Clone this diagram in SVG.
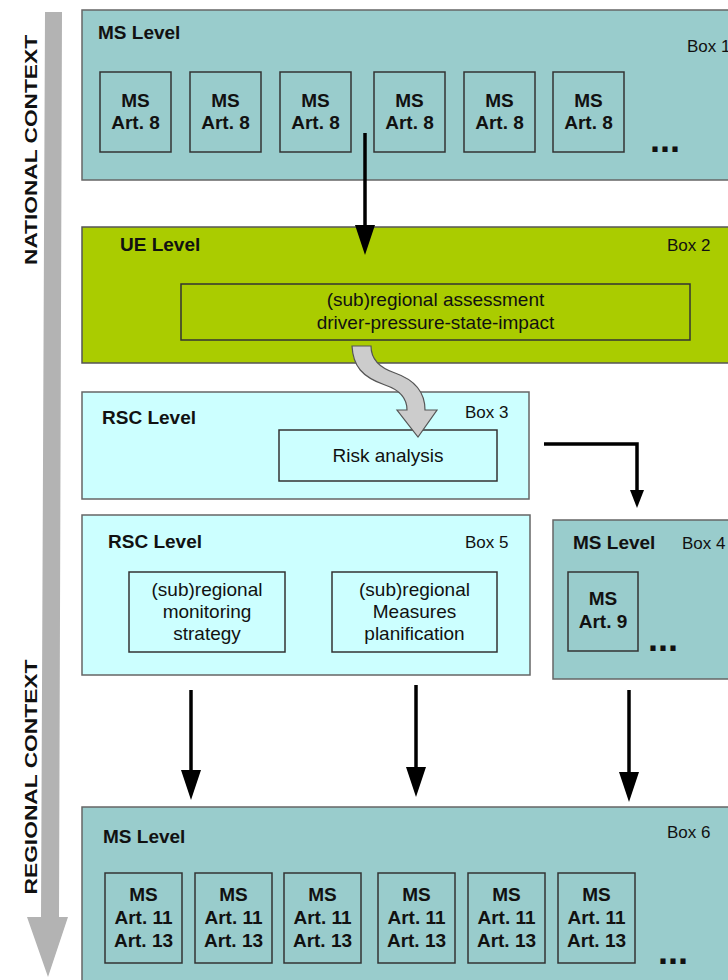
<svg xmlns="http://www.w3.org/2000/svg" width="728" height="980" viewBox="0 0 728 980">
<style>
text{font-family:"Liberation Sans",Arial,sans-serif;fill:#111}
.t{font-size:19px;font-weight:bold}
.lbl{font-size:17px}
.n{font-size:19px}
.c{text-anchor:middle}
.dots{font-size:36px;font-weight:bold}
.teal{fill:#99cccc;stroke:#666;stroke-width:1.5}
.cyan{fill:#ccffff;stroke:#666;stroke-width:1.5}
.green{fill:#aacc00;stroke:#555;stroke-width:1.5}
.in{fill:none;stroke:#333;stroke-width:1.5}
.conn{stroke:#000;stroke-width:3.5;fill:none}
.ctx{fill:#b3b3b3}
.ctxt{font-size:17px;font-weight:bold;text-anchor:middle}
</style>
<defs>
<marker id="ah" markerUnits="userSpaceOnUse" viewBox="0 0 30 20" refX="0" refY="10" markerWidth="30" markerHeight="20" orient="auto">
<path d="M0,0 L30,10 L0,20 Z" fill="#000"/>
</marker>
<marker id="ahs" markerUnits="userSpaceOnUse" viewBox="0 0 18 14" refX="0" refY="7" markerWidth="18" markerHeight="14" orient="auto">
<path d="M0,0 L18,7 L0,14 Z" fill="#000"/>
</marker>
</defs>
<rect width="728" height="980" fill="#fff"/>

<g id="context-arrow">
<path class="ctx" d="M45,12 L62,12 L59,917 L68,917 L48,977 L27,917 L41,917 Z"/>
<text class="ctxt" transform="translate(37,150) rotate(-90)" textLength="230" lengthAdjust="spacingAndGlyphs">NATIONAL CONTEXT</text>
<text class="ctxt" transform="translate(37,777) rotate(-90)" textLength="235" lengthAdjust="spacingAndGlyphs">REGIONAL CONTEXT</text>
</g>

<g id="box1">
<rect class="teal" x="82" y="10" width="660" height="170"/>
<text class="t" x="98" y="39">MS Level</text>
<text class="lbl" x="687" y="52">Box 1</text>
<rect class="in" x="100" y="72" width="71" height="80"/>
<text class="t c" x="135.5" y="107">MS</text><text class="t c" x="135.5" y="129">Art. 8</text>
<rect class="in" x="190" y="72" width="71" height="80"/>
<text class="t c" x="225.5" y="107">MS</text><text class="t c" x="225.5" y="129">Art. 8</text>
<rect class="in" x="280" y="72" width="71" height="80"/>
<text class="t c" x="315.5" y="107">MS</text><text class="t c" x="315.5" y="129">Art. 8</text>
<rect class="in" x="374" y="72" width="71" height="80"/>
<text class="t c" x="409.5" y="107">MS</text><text class="t c" x="409.5" y="129">Art. 8</text>
<rect class="in" x="464" y="72" width="71" height="80"/>
<text class="t c" x="499.5" y="107">MS</text><text class="t c" x="499.5" y="129">Art. 8</text>
<rect class="in" x="553" y="72" width="71" height="80"/>
<text class="t c" x="588.5" y="107">MS</text><text class="t c" x="588.5" y="129">Art. 8</text>
<text class="dots" x="650" y="152">...</text>
</g>

<g id="box2">
<rect class="green" x="82" y="227" width="660" height="136"/>
<text class="t" x="120" y="251">UE Level</text>
<text class="lbl" x="667" y="251">Box 2</text>
<rect class="in" x="181" y="284" width="509" height="56"/>
<text class="n c" x="435.5" y="306">(sub)regional assessment</text>
<text class="n c" x="435.5" y="329">driver-pressure-state-impact</text>
</g>

<g id="box3">
<rect class="cyan" x="82" y="392" width="447" height="107"/>
<text class="t" x="102" y="424">RSC Level</text>
<text class="lbl" x="465" y="418">Box 3</text>
<rect class="in" x="279" y="430" width="218" height="51"/>
<text class="n c" x="388" y="462">Risk analysis</text>
</g>

<g id="box4">
<rect class="teal" x="553" y="520" width="190" height="159"/>
<text class="t" x="573" y="549">MS Level</text>
<text class="lbl" x="682" y="549">Box 4</text>
<rect class="in" x="568" y="572" width="70" height="79"/>
<text class="t c" x="603" y="605">MS</text><text class="t c" x="603" y="628">Art. 9</text>
<text class="dots" x="648" y="651">...</text>
</g>

<g id="box5">
<rect class="cyan" x="82" y="515" width="448" height="160"/>
<text class="t" x="108" y="548">RSC Level</text>
<text class="lbl" x="465" y="548">Box 5</text>
<rect class="in" x="129" y="572" width="156" height="80"/>
<text class="n c" x="207" y="596">(sub)regional</text>
<text class="n c" x="207" y="618">monitoring</text>
<text class="n c" x="207" y="640">strategy</text>
<rect class="in" x="332" y="572" width="165" height="80"/>
<text class="n c" x="414.5" y="596">(sub)regional</text>
<text class="n c" x="414.5" y="618">Measures</text>
<text class="n c" x="414.5" y="640">planification</text>
</g>

<g id="box6">
<rect class="teal" x="82" y="807" width="660" height="190"/>
<text class="t" x="103" y="843">MS Level</text>
<text class="lbl" x="667" y="838">Box 6</text>
<rect class="in" x="105" y="873" width="77" height="90"/>
<text class="t c" x="143.5" y="901">MS</text><text class="t c" x="143.5" y="924">Art. 11</text><text class="t c" x="143.5" y="947">Art. 13</text>
<rect class="in" x="195" y="873" width="77" height="90"/>
<text class="t c" x="233.5" y="901">MS</text><text class="t c" x="233.5" y="924">Art. 11</text><text class="t c" x="233.5" y="947">Art. 13</text>
<rect class="in" x="284" y="873" width="77" height="90"/>
<text class="t c" x="322.5" y="901">MS</text><text class="t c" x="322.5" y="924">Art. 11</text><text class="t c" x="322.5" y="947">Art. 13</text>
<rect class="in" x="378" y="873" width="77" height="90"/>
<text class="t c" x="416.5" y="901">MS</text><text class="t c" x="416.5" y="924">Art. 11</text><text class="t c" x="416.5" y="947">Art. 13</text>
<rect class="in" x="468" y="873" width="77" height="90"/>
<text class="t c" x="506.5" y="901">MS</text><text class="t c" x="506.5" y="924">Art. 11</text><text class="t c" x="506.5" y="947">Art. 13</text>
<rect class="in" x="558" y="873" width="77" height="90"/>
<text class="t c" x="596.5" y="901">MS</text><text class="t c" x="596.5" y="924">Art. 11</text><text class="t c" x="596.5" y="947">Art. 13</text>
<text class="dots" x="658" y="964">...</text>
</g>

<g id="connectors">
<line class="conn" x1="365" y1="133" x2="365" y2="225" marker-end="url(#ah)"/>
<path d="M352,346 L371,346 C371,360 380,368 395,373 C415,380 425,392 425,410 L437,410 L418,437 L397,410 L407,410 C407,398 400,390 385,385 C362,377 353,366 352,346 Z" fill="#cccccc" stroke="#555" stroke-width="1.2"/>
<polyline class="conn" points="544,444 637,444 637,490" marker-end="url(#ahs)"/>
<line class="conn" x1="191" y1="690" x2="191" y2="770" marker-end="url(#ah)"/>
<line class="conn" x1="416" y1="685" x2="416" y2="767" marker-end="url(#ah)"/>
<line class="conn" x1="629" y1="690" x2="629" y2="772" marker-end="url(#ah)"/>
</g>
</svg>
